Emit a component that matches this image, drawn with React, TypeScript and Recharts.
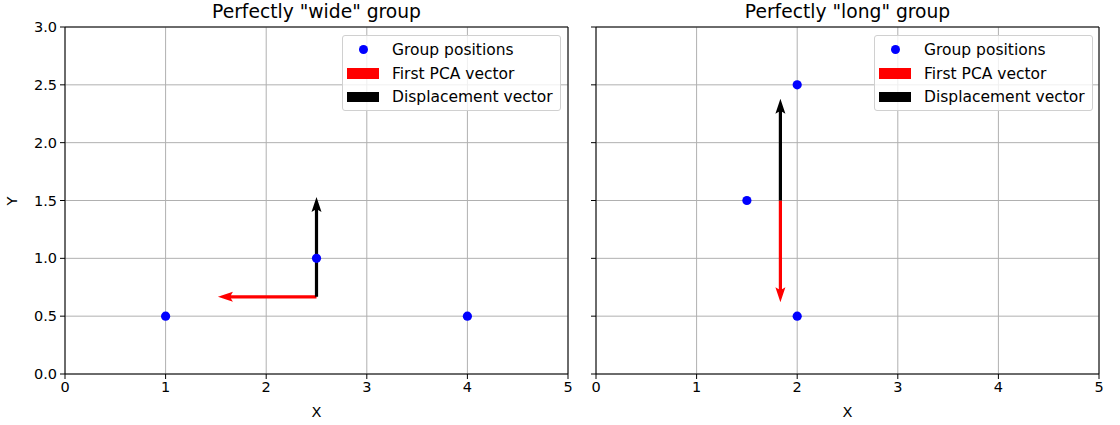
import {
  CartesianGrid,
  Label,
  ReferenceLine,
  Scatter,
  ScatterChart,
  XAxis,
  YAxis,
} from "recharts";

const xTicks = [0, 1, 2, 3, 4, 5];
const yTicks = [0, 0.5, 1, 1.5, 2, 2.5, 3];

// perfectly "wide" group
const wideX = [1, 4, 2.5];
const wideY = [0.5, 0.5, 1.0];
const wideStart = [2.5, 0.667];
const widePcaEnd = [1.52, 0.667];
const wideDispEnd = [2.5, 1.53];

// perfectly "long" group
const longX = [2, 1.5, 2];
const longY = [2.5, 1.5, 0.5];
const longStart = [1.833, 1.5];
const longPcaEnd = [1.833, 0.62];
const longDispEnd = [1.833, 2.38];

const legendLabels = ["Group positions", "First PCA vector", "Displacement vector"];
const legendColors = ["#0000ff", "#ff0000", "#000000"];

const FONT = "'DejaVu Sans', sans-serif";
const TICK_FS = 14.5;

interface ArrowProps {
  x1?: number;
  y1?: number;
  x2?: number;
  y2?: number;
}

// quiver-like arrow polygon between the two segment end points
function arrowShape(color: string) {
  return (props: ArrowProps) => {
    const { x1 = 0, y1 = 0, x2 = 0, y2 = 0 } = props;
    const dx = x2 - x1;
    const dy = y2 - y1;
    const len = Math.hypot(dx, dy) || 1;
    const ux = dx / len;
    const uy = dy / len;
    const px = -uy;
    const py = ux;
    const w = 1.6;
    const hw = 5;
    const hl = 15;
    const ha = 13;
    const pt = (along: number, side: number) =>
      `${x1 + ux * along + px * side},${y1 + uy * along + py * side}`;
    const points = [
      pt(0, w),
      pt(len - ha, w),
      pt(len - hl, hw),
      pt(len, 0),
      pt(len - hl, -hw),
      pt(len - ha, -w),
      pt(0, -w),
    ].join(" ");
    return <polygon points={points} fill={color} stroke="none" />;
  };
}

function Dot(props: { cx?: number; cy?: number }) {
  return <circle cx={props.cx} cy={props.cy} r={4.6} fill="#0000ff" />;
}

function LegendBox({ left }: { left: number }) {
  return (
    <div
      style={{
        position: "absolute",
        left,
        top: 35,
        width: 217,
        height: 74,
        border: "1px solid #d0d0d0",
        borderRadius: 3,
        background: "rgba(255,255,255,0.8)",
        fontFamily: FONT,
        fontSize: 15.5,
        color: "#000",
      }}
    >
      {legendLabels.map((label, i) => (
        <div
          key={label}
          style={{ position: "absolute", left: 0, top: 4 + i * 23.5, height: 20, width: 217 }}
        >
          {i === 0 ? (
            <div
              style={{
                position: "absolute",
                left: 16,
                top: 5,
                width: 9,
                height: 9,
                borderRadius: "50%",
                background: legendColors[i],
              }}
            />
          ) : (
            <div
              style={{
                position: "absolute",
                left: 4,
                top: 4.5,
                width: 32,
                height: 10.5,
                background: legendColors[i],
              }}
            />
          )}
          <span
            style={{ position: "absolute", left: 49, top: 0, lineHeight: "20px", whiteSpace: "nowrap" }}
          >
            {label}
          </span>
        </div>
      ))}
    </div>
  );
}

interface PanelProps {
  xs: number[];
  ys: number[];
  start: number[];
  pcaEnd: number[];
  dispEnd: number[];
  width: number;
  marginRight: number;
  yAxisWidth: number;
  showYLabels: boolean;
}

function Panel({ xs, ys, start, pcaEnd, dispEnd, width, marginRight, yAxisWidth, showYLabels }: PanelProps) {
  const points = xs.map((x, i) => ({ x, y: ys[i] }));
  return (
    <ScatterChart
      width={width}
      height={425}
      margin={{ top: 27, right: marginRight, bottom: 5, left: 0 }}
      style={{ fontFamily: FONT }}
    >
      <CartesianGrid stroke="#b0b0b0" strokeWidth={1} />
      <XAxis
        type="number"
        dataKey="x"
        domain={[0, 5]}
        ticks={xTicks}
        allowDataOverflow
        height={46}
        tickSize={5}
        tickMargin={3}
        stroke="#000"
        tick={{ fill: "#000", fontSize: TICK_FS }}
      >
        <Label value="X" position="insideBottom" offset={3} fill="#000" fontSize={TICK_FS} />
      </XAxis>
      <YAxis
        type="number"
        dataKey="y"
        domain={[0, 3]}
        ticks={yTicks}
        allowDataOverflow
        width={yAxisWidth}
        tickSize={5}
        tickMargin={3}
        stroke="#000"
        tick={{ fill: "#000", fontSize: TICK_FS }}
        tickFormatter={(v: number) => (showYLabels ? v.toFixed(1) : "")}
      >
        {showYLabels && (
          <Label
            content={() => (
              <text
                transform="translate(12,201) rotate(-90)"
                textAnchor="middle"
                dominantBaseline="central"
                fill="#000"
                fontSize={TICK_FS}
              >
                Y
              </text>
            )}
          />
        )}
      </YAxis>
      <ReferenceLine y={3} stroke="#000" strokeWidth={1} />
      <ReferenceLine x={5} stroke="#000" strokeWidth={1} />
      <ReferenceLine
        segment={[{ x: start[0], y: start[1] }, { x: pcaEnd[0], y: pcaEnd[1] }]}
        shape={arrowShape("#ff0000")}
      />
      <ReferenceLine
        segment={[{ x: start[0], y: start[1] }, { x: dispEnd[0], y: dispEnd[1] }]}
        shape={arrowShape("#000000")}
      />
      <Scatter data={points} shape={<Dot />} isAnimationActive={false} />
    </ScatterChart>
  );
}

const titleStyle = {
  position: "absolute" as const,
  top: 1,
  fontFamily: FONT,
  fontSize: 18.7,
  color: "#000",
  textAlign: "center" as const,
  width: 503,
};

export default function App() {
  return (
    <div style={{ position: "absolute", left: 0, top: 0, width: 1120, height: 425, background: "#fff" }}>
      <div style={{ position: "absolute", left: 0, top: 0 }}>
        <Panel
          xs={wideX}
          ys={wideY}
          start={wideStart}
          pcaEnd={widePcaEnd}
          dispEnd={wideDispEnd}
          width={580}
          marginRight={12}
          yAxisWidth={65}
          showYLabels
        />
      </div>
      <div style={{ position: "absolute", left: 580, top: 0 }}>
        <Panel
          xs={longX}
          ys={longY}
          start={longStart}
          pcaEnd={longPcaEnd}
          dispEnd={longDispEnd}
          width={540}
          marginRight={21}
          yAxisWidth={16}
          showYLabels={false}
        />
      </div>
      <div style={{ ...titleStyle, left: 65 }}>Perfectly "wide" group</div>
      <div style={{ ...titleStyle, left: 596 }}>Perfectly "long" group</div>
      <LegendBox left={342} />
      <LegendBox left={874} />
    </div>
  );
}
